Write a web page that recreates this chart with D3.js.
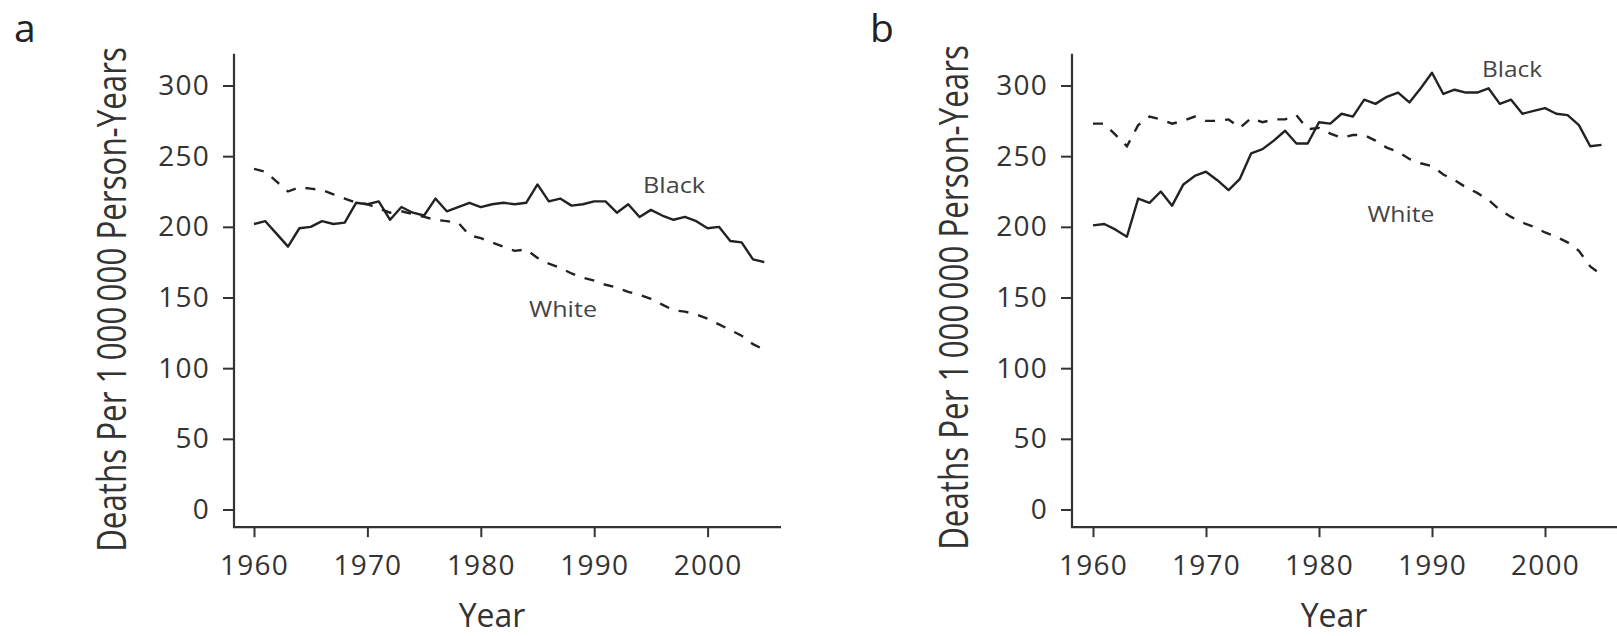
<!DOCTYPE html>
<html>
<head>
<meta charset="utf-8">
<script src="https://cdn.jsdelivr.net/npm/d3@7"></script>
<style>
    html, body { margin: 0; padding: 0; background: #fff; }
    svg { display: block; font-family: "Open Sans", "DejaVu Sans", sans-serif; }
</style>
</head>
<body>
<div id="chart-area"></div>
<script>
// data (deaths per 1 000 000 person-years)
const years = d3.range(1960, 2006);

const blackA = [202, 204, 195, 186, 199, 200, 204, 202, 203, 217,
    216, 218, 205, 214, 210, 208, 220, 211, 214, 217,
    214, 216, 217, 216, 217, 230, 218, 220, 215, 216,
    218, 218, 210, 216, 207, 212, 208, 205, 207, 204,
    199, 200, 190, 189, 177, 175];

const whiteA = [241, 239, 232, 225, 228, 227, 226, 223, 220, 217,
    216, 213, 210, 211, 209, 207, 205, 204, 203, 194,
    192, 189, 186, 183, 184, 178, 174, 171, 167, 164,
    162, 159, 157, 154, 152, 149, 145, 141, 140, 138,
    135, 131, 127, 123, 117, 113];

const blackB = [201, 202, 198, 193, 220, 217, 225, 215, 230, 236,
    239, 233, 226, 234, 252, 255, 261, 268, 259, 259,
    274, 273, 280, 278, 290, 287, 292, 295, 288, 298,
    309, 294, 297, 295, 295, 298, 287, 290, 280, 282,
    284, 280, 279, 272, 257, 258];

const whiteB = [273, 273, 265, 257, 272, 278, 276, 273, 275, 278,
    275, 275, 276, 270, 277, 274, 276, 276, 279, 269,
    270, 266, 263, 265, 265, 261, 256, 253, 248, 245,
    243, 237, 233, 228, 224, 219, 212, 207, 203, 200,
    196, 193, 189, 183, 172, 166];

const yTicks = [0, 50, 100, 150, 200, 250, 300];
const xTicks = [1960, 1970, 1980, 1990, 2000];
const yTitle = "Deaths Per 1\u2009000\u2009000 Person-Years";

const WIDTH = 1617,
    HEIGHT = 636,
    Y_ZERO = 509.5,
    Y_300 = 85.5,
    TITLE_LENGTH = 505,
    AXIS_COLOR = '#333',
    LINE_COLOR = '#222',
    TEXT_COLOR = '#333',
    LABEL_COLOR = '#444';

const svg = d3.select("#chart-area")
    .append("svg")
    .attr("width", WIDTH)
    .attr("height", HEIGHT);

const y = d3.scaleLinear().domain([0, 300]).range([Y_ZERO, Y_300]);

const panels = [
    {
        letter: "a", letterX: 14, axisX: 234, x1960: 254, x2000: 707.6, axisEnd: 781,
        titleX: 126, titleY: 299.5, yearX: 492,
        black: blackA, white: whiteA,
        blackLabel: [674, 192.5, 62], whiteLabel: [563, 316.5, 68]
    },
    {
        letter: "b", letterX: 870, axisX: 1072, x1960: 1093, x2000: 1545, axisEnd: 1640,
        titleX: 968, titleY: 297.5, yearX: 1334,
        black: blackB, white: whiteB,
        blackLabel: [1512, 77, 60], whiteLabel: [1401, 221.5, 67]
    }
];

panels.forEach(drawPanel);

function drawPanel(p) {
    const x = d3.scaleLinear().domain([1960, 2000]).range([p.x1960, p.x2000]);
    const g = svg.append("g");
    const axisY = y(-12.5);

    // panel letter
    g.append("text")
        .attr("x", p.letterX)
        .attr("y", 42)
        .attr("font-size", 39)
        .attr("fill", "#222")
        .text(p.letter);

    // y axis
    const ya = g.append("g")
        .attr("transform", `translate(${p.axisX},0)`)
        .call(d3.axisLeft(y).tickValues(yTicks).tickSize(11).tickPadding(13));
    ya.select(".domain").remove();

    // x axis
    const xa = g.append("g")
        .attr("transform", `translate(0,${axisY})`)
        .call(d3.axisBottom(x).tickValues(xTicks).tickFormat(d3.format("d")).tickSize(10).tickPadding(18));
    xa.select(".domain").remove();

    g.selectAll(".tick line")
        .attr("stroke", AXIS_COLOR)
        .attr("stroke-width", 2);
    g.selectAll(".tick text")
        .attr("fill", TEXT_COLOR)
        .attr("font-family", '"Open Sans", sans-serif')
        .attr("font-size", 28)
        .attr("letter-spacing", 1.2);

    // axis lines
    g.append("path")
        .attr("d", `M${p.axisX},${y(322.5)}V${axisY}H${p.axisEnd}`)
        .attr("fill", "none")
        .attr("stroke", AXIS_COLOR)
        .attr("stroke-width", 2.2);

    // y title: tall condensed glyphs, squeezed to the measured length
    const title = g.append("text")
        .attr("text-anchor", "middle")
        .attr("font-size", 40)
        .attr("fill", TEXT_COLOR)
        .text(yTitle);
    const natural = title.node().getComputedTextLength();
    title.attr("transform",
        `translate(${p.titleX},${p.titleY}) rotate(-90) scale(${TITLE_LENGTH / natural},1)`);

    g.append("text")
        .attr("x", p.yearX)
        .attr("y", 627)
        .attr("text-anchor", "middle")
        .attr("font-size", 32)
        .attr("fill", TEXT_COLOR)
        .text("Year");

    // lines
    const line = d3.line()
        .x((d, i) => x(years[i]))
        .y(d => y(d));

    g.append("path")
        .datum(p.white)
        .attr("d", line)
        .attr("fill", "none")
        .attr("stroke", LINE_COLOR)
        .attr("stroke-width", 2.4)
        .attr("stroke-dasharray", "10,10");

    g.append("path")
        .datum(p.black)
        .attr("d", line)
        .attr("fill", "none")
        .attr("stroke", LINE_COLOR)
        .attr("stroke-width", 2.4)
        .attr("stroke-linejoin", "round");

    // series labels
    [["Black", p.blackLabel], ["White", p.whiteLabel]].forEach(([name, pos]) => {
        g.append("text")
            .attr("x", pos[0])
            .attr("y", pos[1])
            .attr("text-anchor", "middle")
            .attr("font-size", 22)
            .attr("fill", LABEL_COLOR)
            .attr("textLength", pos[2])
            .attr("lengthAdjust", "spacingAndGlyphs")
            .text(name);
    });
}
</script>
</body>
</html>
